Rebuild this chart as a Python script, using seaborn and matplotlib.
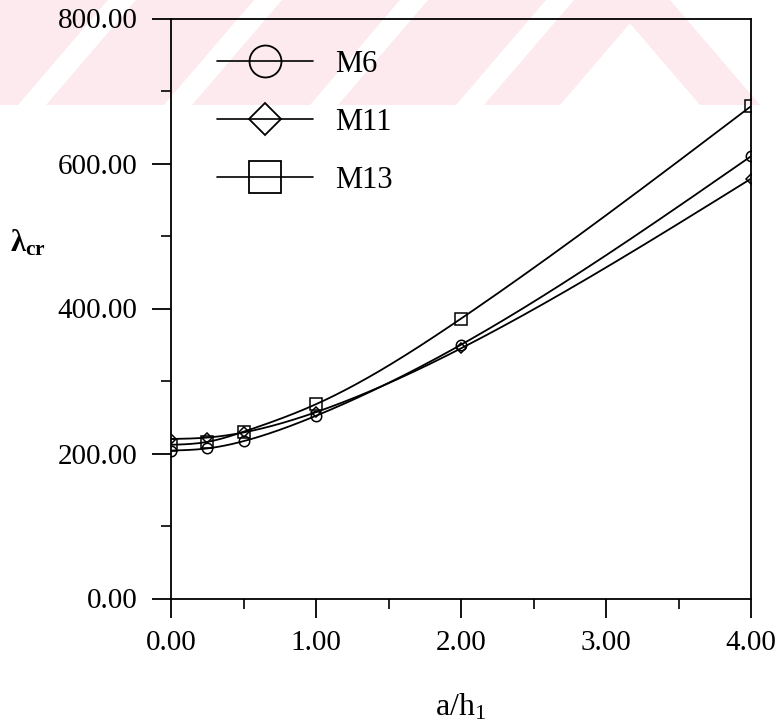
import numpy as np
import pandas as pd
import matplotlib
matplotlib.use("Agg")
import matplotlib.pyplot as plt
from matplotlib.lines import Line2D
from matplotlib.patches import Polygon
from matplotlib.ticker import MultipleLocator, FormatStrFormatter
import seaborn as sns

# ---- data ----
ratio = [0.0, 0.25, 0.5, 1.0, 2.0, 4.0]
m6 = [204, 207, 217, 252, 350, 610]
m11 = [220, 222, 229, 257, 345, 579]
m13 = [212, 216, 230, 268, 386, 679]
series_names = ["M6", "M11", "M13"]
series_markers = {"M6": "o", "M11": "D", "M13": "s"}

df = pd.DataFrame({
    "ratio": ratio * 3,
    "lam": m6 + m11 + m13,
    "model": sum([[n] * len(ratio) for n in series_names], []),
})

sns.set_theme(style="white")
plt.rcParams["font.family"] = ["Liberation Serif", "DejaVu Serif"]
plt.rcParams["mathtext.fontset"] = "custom"
plt.rcParams["mathtext.rm"] = "Liberation Serif"
plt.rcParams["mathtext.it"] = "Liberation Serif:italic"
plt.rcParams["text.color"] = "black"
plt.rcParams["axes.labelcolor"] = "black"


def natural_spline(x, y, xs):
    x = np.asarray(x, float)
    y = np.asarray(y, float)
    n = len(x)
    h = np.diff(x)
    A = np.zeros((n, n))
    r = np.zeros(n)
    A[0, 0] = A[-1, -1] = 1.0
    for i in range(1, n - 1):
        A[i, i - 1] = h[i - 1]
        A[i, i] = 2 * (h[i - 1] + h[i])
        A[i, i + 1] = h[i]
        r[i] = 3 * ((y[i + 1] - y[i]) / h[i] - (y[i] - y[i - 1]) / h[i - 1])
    c = np.linalg.solve(A, r)
    b = (y[1:] - y[:-1]) / h - h * (2 * c[:-1] + c[1:]) / 3
    d = (c[1:] - c[:-1]) / (3 * h)
    idx = np.clip(np.searchsorted(x, xs, side="right") - 1, 0, n - 2)
    t = xs - x[idx]
    return y[idx] + b[idx] * t + c[idx] * t ** 2 + d[idx] * t ** 3


W, H = 778, 726
fig = plt.figure(figsize=(W / 100, H / 100), dpi=100)
fig.patch.set_facecolor("white")

# pale slanted bands across the top of the page
pink = "#fdeaee"
bh = 105
bands = [
    [(-10, bh), (18, bh), (108, 0), (-10, 0)],
    [(46, bh), (164, bh), (254, 0), (136, 0)],
    [(192, bh), (310, bh), (400, 0), (282, 0)],
    [(338, bh), (456, bh), (546, 0), (428, 0)],
    [(484, bh), (560, bh), (650, 0), (574, 0)],
    [(610, 0), (670, 0), (760, bh), (700, bh)],
]
for pts in bands:
    fig.patches.append(Polygon([(px / W, 1 - py / H) for px, py in pts],
                               closed=True, transform=fig.transFigure,
                               facecolor=pink, edgecolor="none", zorder=-1))

ax = fig.add_axes([171 / W, 1 - 598.5 / H, 580 / W, 580 / H])
ax.set_facecolor("none")

xs = np.linspace(0, 4, 400)
sizes = {"M6": 7.5, "M11": 5.5, "M13": 8.5}
for name, vals in zip(series_names, [m6, m11, m13]):
    ax.plot(xs, natural_spline(ratio, vals, xs), color="black", lw=1.3, zorder=2)
    sub = df[df["model"] == name]
    sns.lineplot(data=sub, x="ratio", y="lam", ax=ax, marker=series_markers[name],
                 linestyle="", color="black", mfc="none", mec="black",
                 ms=sizes[name], mew=1.1, zorder=3, legend=False)

ax.set_xlim(0, 4)
ax.set_ylim(0, 800)
ax.xaxis.set_major_locator(MultipleLocator(1))
ax.xaxis.set_minor_locator(MultipleLocator(0.5))
ax.yaxis.set_major_locator(MultipleLocator(200))
ax.yaxis.set_minor_locator(MultipleLocator(100))
ax.xaxis.set_major_formatter(FormatStrFormatter("%.2f"))
ax.yaxis.set_major_formatter(FormatStrFormatter("%.2f"))
ax.tick_params(which="major", direction="out", length=14, width=1.3, colors="black",
               labelsize=21, bottom=True, left=True, top=False, right=False)
ax.tick_params(which="minor", direction="out", length=7, width=1.2, colors="black",
               bottom=True, left=True, top=False, right=False)
ax.tick_params(axis="x", which="major", pad=9)
ax.tick_params(axis="y", which="major", pad=10)
for s in ax.spines.values():
    s.set_visible(True)
    s.set_color("black")
    s.set_linewidth(1.3)

ax.set_xlabel("")
ax.set_ylabel("")
fig.text(461 / W, 1 - 707 / H, r"a/h$_\mathregular{1}$", ha="center", va="center",
         fontsize=23, color="black")
fig.text(10 / W, 1 - 243 / H, r"λ$_\mathregular{cr}$", ha="left", va="center",
         fontsize=22, fontweight="bold", color="black")

handles = [Line2D([], [], color="black", lw=1.2, marker=series_markers[n],
                  mfc="none", mec="black", mew=1.3,
                  ms=23 if n != "M11" else 16.5) for n in series_names]
leg = ax.legend(handles, series_names, loc="upper left",
                bbox_to_anchor=(217 / W, 1 - 50 / H), bbox_transform=fig.transFigure,
                frameon=False, fontsize=22, handlelength=3.14, handletextpad=0.72,
                labelspacing=0.95, borderpad=0, borderaxespad=0)
for t in leg.get_texts():
    t.set_color("black")

fig.savefig("out.png", dpi=100, facecolor="white")
